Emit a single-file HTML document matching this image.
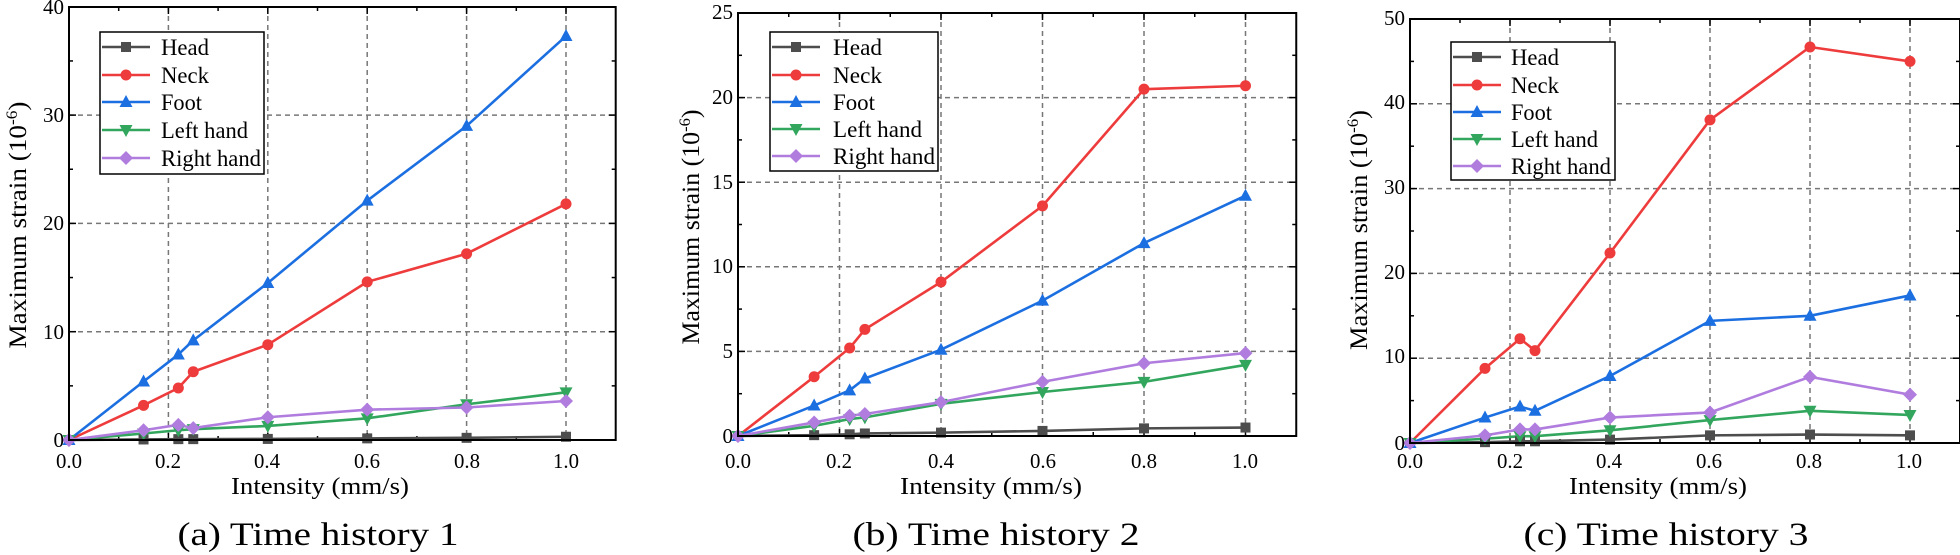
<!DOCTYPE html>
<html><head><meta charset="utf-8"><style>
html,body{margin:0;padding:0;background:#fff;}
svg{display:block;}
svg text{font-family:"Liberation Serif","Times New Roman",Times,serif;}
</style></head><body>
<svg id="s" width="1960" height="555" viewBox="0 0 1960 555" xmlns="http://www.w3.org/2000/svg" font-family="Liberation Serif, serif">
<g id="plots"></g>
<!-- Panel 1 text -->
<g font-size="21" text-anchor="end">
<text x="64" y="447">0</text><text x="64" y="339">10</text><text x="64" y="230">20</text><text x="64" y="122">30</text><text x="64" y="14">40</text>
</g>
<g font-size="21" text-anchor="middle">
<text x="69" y="468" textLength="26" lengthAdjust="spacingAndGlyphs">0.0</text><text x="168" y="468" textLength="26" lengthAdjust="spacingAndGlyphs">0.2</text><text x="267" y="468" textLength="26" lengthAdjust="spacingAndGlyphs">0.4</text><text x="367" y="468" textLength="26" lengthAdjust="spacingAndGlyphs">0.6</text><text x="467" y="468" textLength="26" lengthAdjust="spacingAndGlyphs">0.8</text><text x="566" y="468" textLength="26" lengthAdjust="spacingAndGlyphs">1.0</text>
</g>
<text x="320" y="494" font-size="24" text-anchor="middle" textLength="178" lengthAdjust="spacingAndGlyphs">Intensity (mm/s)</text>
<text x="318" y="545" font-size="33" text-anchor="middle" textLength="281" lengthAdjust="spacingAndGlyphs">(a) Time history 1</text>
<text transform="translate(26,225) rotate(-90)" font-size="25" text-anchor="middle" textLength="247" lengthAdjust="spacingAndGlyphs">Maximum strain (10<tspan dy="-9" font-size="16">-6</tspan><tspan dy="9">)</tspan></text>

<!-- Panel 2 text -->
<g font-size="21" text-anchor="end">
<text x="733" y="443">0</text><text x="733" y="358">5</text><text x="733" y="273">10</text><text x="733" y="189">15</text><text x="733" y="104">20</text><text x="733" y="19">25</text>
</g>
<g font-size="21" text-anchor="middle">
<text x="738" y="468" textLength="26" lengthAdjust="spacingAndGlyphs">0.0</text><text x="839" y="468" textLength="26" lengthAdjust="spacingAndGlyphs">0.2</text><text x="941" y="468" textLength="26" lengthAdjust="spacingAndGlyphs">0.4</text><text x="1043" y="468" textLength="26" lengthAdjust="spacingAndGlyphs">0.6</text><text x="1144" y="468" textLength="26" lengthAdjust="spacingAndGlyphs">0.8</text><text x="1245" y="468" textLength="26" lengthAdjust="spacingAndGlyphs">1.0</text>
</g>
<text x="991" y="494" font-size="24" text-anchor="middle" textLength="182" lengthAdjust="spacingAndGlyphs">Intensity (mm/s)</text>
<text x="996" y="545" font-size="33" text-anchor="middle" textLength="287" lengthAdjust="spacingAndGlyphs">(b) Time history 2</text>
<text transform="translate(699,227) rotate(-90)" font-size="25" text-anchor="middle" textLength="235" lengthAdjust="spacingAndGlyphs">Maximum strain (10<tspan dy="-9" font-size="16">-6</tspan><tspan dy="9">)</tspan></text>

<!-- Panel 3 text -->
<g font-size="21" text-anchor="end">
<text x="1405" y="450">0</text><text x="1405" y="363">10</text><text x="1405" y="279">20</text><text x="1405" y="194">30</text><text x="1405" y="109">40</text><text x="1405" y="25">50</text>
</g>
<g font-size="21" text-anchor="middle">
<text x="1410" y="468" textLength="26" lengthAdjust="spacingAndGlyphs">0.0</text><text x="1510" y="468" textLength="26" lengthAdjust="spacingAndGlyphs">0.2</text><text x="1609" y="468" textLength="26" lengthAdjust="spacingAndGlyphs">0.4</text><text x="1709" y="468" textLength="26" lengthAdjust="spacingAndGlyphs">0.6</text><text x="1809" y="468" textLength="26" lengthAdjust="spacingAndGlyphs">0.8</text><text x="1909" y="468" textLength="26" lengthAdjust="spacingAndGlyphs">1.0</text>
</g>
<text x="1658" y="494" font-size="24" text-anchor="middle" textLength="178" lengthAdjust="spacingAndGlyphs">Intensity (mm/s)</text>
<text x="1666" y="545" font-size="33" text-anchor="middle" textLength="285" lengthAdjust="spacingAndGlyphs">(c) Time history 3</text>
<text transform="translate(1367,230) rotate(-90)" font-size="25" text-anchor="middle" textLength="240" lengthAdjust="spacingAndGlyphs">Maximum strain (10<tspan dy="-9" font-size="16">-6</tspan><tspan dy="9">)</tspan></text>

<!-- legends text -->
<g font-size="23">
<text x="161" y="55" textLength="48" lengthAdjust="spacingAndGlyphs">Head</text><text x="161" y="83" textLength="48" lengthAdjust="spacingAndGlyphs">Neck</text><text x="161" y="110" textLength="41" lengthAdjust="spacingAndGlyphs">Foot</text><text x="161" y="138" textLength="87" lengthAdjust="spacingAndGlyphs">Left hand</text><text x="161" y="166" textLength="100" lengthAdjust="spacingAndGlyphs">Right hand</text>
<text x="833" y="55" textLength="49" lengthAdjust="spacingAndGlyphs">Head</text><text x="833" y="83" textLength="49" lengthAdjust="spacingAndGlyphs">Neck</text><text x="833" y="110" textLength="42" lengthAdjust="spacingAndGlyphs">Foot</text><text x="833" y="137" textLength="89" lengthAdjust="spacingAndGlyphs">Left hand</text><text x="833" y="164" textLength="102" lengthAdjust="spacingAndGlyphs">Right hand</text>
<text x="1511" y="65" textLength="48" lengthAdjust="spacingAndGlyphs">Head</text><text x="1511" y="93" textLength="48" lengthAdjust="spacingAndGlyphs">Neck</text><text x="1511" y="120" textLength="41" lengthAdjust="spacingAndGlyphs">Foot</text><text x="1511" y="147" textLength="87" lengthAdjust="spacingAndGlyphs">Left hand</text><text x="1511" y="174" textLength="100" lengthAdjust="spacingAndGlyphs">Right hand</text>
</g>
</svg>
<script>
(function(){
var NS="http://www.w3.org/2000/svg";
var g=document.getElementById('plots');
function el(t,a,p){var e=document.createElementNS(NS,t);for(var k in a)e.setAttribute(k,a[k]);(p||g).appendChild(e);return e;}
var cols=['#4d4d4d','#ee3b3b','#1c6fe0','#33a65e','#b07ddf'];
var xs=[0,0.15,0.22,0.25,0.4,0.6,0.8,1.0];
function marker(k,x,y,par){
 var c=cols[k],r=5;
 if(k==0)el('rect',{x:x-r,y:y-r,width:2*r,height:2*r,fill:c},par);
 else if(k==1)el('circle',{cx:x,cy:y,r:r+0.5,fill:c},par);
 else if(k==2)el('polygon',{points:(x)+','+(y-7)+' '+(x-6.5)+','+(y+5)+' '+(x+6.5)+','+(y+5),fill:c},par);
 else if(k==3)el('polygon',{points:(x)+','+(y+7)+' '+(x-6.5)+','+(y-5)+' '+(x+6.5)+','+(y-5),fill:c},par);
 else el('polygon',{points:(x)+','+(y-7)+' '+(x+7)+','+y+' '+x+','+(y+7)+' '+(x-7)+','+y,fill:c},par);
}
var P=[
 {x0:69,xs:497,y0:440,ys:10.83,top:7,ymax:40,step:10,
  d:[[0,.05,.08,.08,.1,.15,.2,.3],[0,3.2,4.8,6.3,8.8,14.6,17.2,21.8],[0,5.4,7.9,9.2,14.5,22.1,29,37.3],[0,.6,.9,1.0,1.3,2.0,3.3,4.4],[0,.9,1.4,1.1,2.1,2.8,3.0,3.6]],
  lg:[100,32,164,142,[47,75,102,130,158]]},
 {x0:738,xs:507.5,y0:436,ys:16.92,top:13,ymax:25,step:5,
  d:[[0,.05,.1,.15,.2,.3,.45,.5],[0,3.5,5.2,6.3,9.1,13.6,20.5,20.7],[0,1.8,2.7,3.4,5.1,8.0,11.4,14.2],[0,.6,1.0,1.1,1.9,2.6,3.2,4.2],[0,.8,1.2,1.3,2.0,3.2,4.3,4.9]],
  lg:[770,32,168,139,[47,75,102,129,156]]},
 {x0:1410,xs:500,y0:443,ys:8.48,top:19,ymax:50,step:10,
  d:[[0,.1,.2,.2,.4,.9,1.0,.9],[0,8.8,12.3,10.9,22.4,38.1,46.7,45],[0,3.0,4.3,3.8,7.9,14.4,15.0,17.4],[0,.5,.8,.8,1.5,2.7,3.8,3.3],[0,.9,1.6,1.6,3.0,3.6,7.8,5.7]],
  lg:[1451,42,164,138,[57,85,112,139,166]]}
];
P.forEach(function(p){
 var L=p.x0,R=p.x0+1.1*p.xs,T=p.top,B=p.y0;
 for(var i=1;i<=5;i++){var x=p.x0+0.2*i*p.xs;el('line',{x1:x,y1:T,x2:x,y2:B,stroke:'#777','stroke-width':1.5,'stroke-dasharray':'5,4'});}
 for(var v=p.step;v<=p.ymax;v+=p.step){var y=p.y0-v*p.ys;el('line',{x1:L,y1:y,x2:R,y2:y,stroke:'#777','stroke-width':1.5,'stroke-dasharray':'5,4'});}
 for(var i=1;i<=10;i++){var x=p.x0+0.1*i*p.xs,len=(i%2==0)?7:4;
  el('line',{x1:x,y1:B,x2:x,y2:B-len,stroke:'#000','stroke-width':1.5});
  el('line',{x1:x,y1:T,x2:x,y2:T+len,stroke:'#000','stroke-width':1.5});}
 for(var v=p.step/2;v<p.ymax;v+=p.step/2){var y=p.y0-v*p.ys,len=(Math.round(v/p.step*2)%2==0)?7:4;
  el('line',{x1:L,y1:y,x2:L+len,y2:y,stroke:'#000','stroke-width':1.5});
  el('line',{x1:R,y1:y,x2:R-len,y2:y,stroke:'#000','stroke-width':1.5});}
 for(var k=0;k<5;k++){
  var pts=xs.map(function(xv,j){return [p.x0+xv*p.xs,p.y0-p.d[k][j]*p.ys];});
  el('polyline',{points:pts.map(function(q){return q.join(',')}).join(' '),fill:'none',stroke:cols[k],'stroke-width':2.6,'stroke-linejoin':'round'});
 }
 for(var k=0;k<5;k++){
  xs.forEach(function(xv,j){marker(k,p.x0+xv*p.xs,p.y0-p.d[k][j]*p.ys);});
 }
 el('rect',{x:L,y:T,width:R-L,height:B-T,fill:'none',stroke:'#000','stroke-width':2});
 var lg=p.lg;
 el('rect',{x:lg[0],y:lg[1],width:lg[2],height:lg[3],fill:'#fff',stroke:'#000','stroke-width':1.5});
 for(var k=0;k<5;k++){var y=lg[4][k];
  el('line',{x1:lg[0]+2,y1:y,x2:lg[0]+50,y2:y,stroke:cols[k],'stroke-width':2.6});
  marker(k,lg[0]+26,y);}
});
})();
</script>
</body></html>
